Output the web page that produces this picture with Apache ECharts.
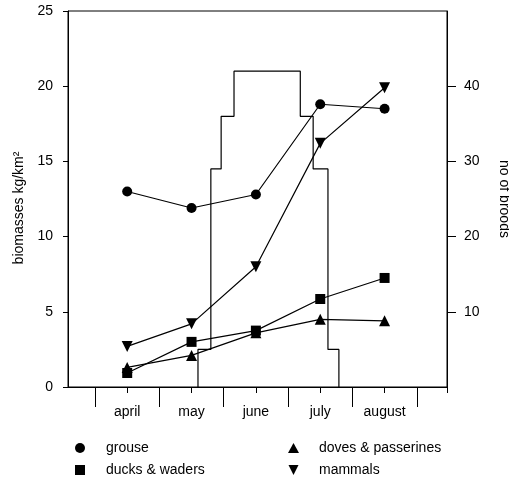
<!DOCTYPE html>
<html>
<head>
    <meta charset="utf-8">
    <title>biomasses</title>
    <script src="https://cdn.jsdelivr.net/npm/echarts@6/dist/echarts.min.js"></script>
    <style>
        html, body {margin:0;padding:0;background:#fff;}
        #chart {width:509px;height:481px;}
    </style>
</head>
<body>
<div id="chart"></div>
<script>
    // months on the x axis, one bin each
    var months = ['april', 'may', 'june', 'july', 'august'];

    // biomasses kg/km2, left axis
    var grouse  = [13.0, 11.9, 12.8, 18.8, 18.5];
    var ducks   = [0.93, 3.0, 3.75, 5.85, 7.25];
    var doves   = [1.3, 2.1, 3.6, 4.5, 4.4];
    var mammals = [2.7, 4.2, 8.0, 16.2, 19.9];

    // no of broods (right axis), step histogram
    var broodEdges = [1.6, 1.8, 1.96, 2.16, 3.19, 3.39, 3.62, 3.79];
    var broods     = [5, 29, 36, 42, 36, 29, 5];

    var leftTicks  = [0, 5, 10, 15, 20, 25];
    var rightTicks = [10, 20, 30, 40];

    var font = 'Liberation Sans, Arial, Helvetica, sans-serif';
    var downTri = 'path://M0,0L10,0L5,10Z';

    // month i sits in the middle of bin [i, i+1]
    function pts(arr) {
        return arr.map(function (v, i) { return [i + 0.5, v]; });
    }

    var stepData = [[broodEdges[0], 0]];
    for (var i = 0; i < broods.length; i++) {
        stepData.push([broodEdges[i], broods[i]]);
    }
    stepData.push([broodEdges[broodEdges.length - 1], 0]);

    var bounds = [];
    var centers = [];
    for (var k = 0; k <= months.length; k++) bounds.push(k);
    for (var k = 0; k < months.length; k++) centers.push(k + 0.5);

    var xMin = -0.42, xMax = 5.47;

    function lineSeries(name, data, symbol, size) {
        return {
            name: name,
            type: 'line',
            data: pts(data),
            symbol: symbol,
            symbolSize: size,
            lineStyle: {color: '#000', width: 1.2},
            itemStyle: {color: '#000'},
            z: 3
        };
    }

    var legendText = {fontFamily: font, fontSize: 14, color: '#000', lineHeight: 14};

    var chart = echarts.init(document.getElementById('chart'));
    var option = {
        animation: false,
        backgroundColor: '#fff',
        textStyle: {fontFamily: font, color: '#000'},
        grid: {
            left: 68, right: 62, top: 11, bottom: 94,
            outerBoundsMode: 'none', containLabel: false,
            show: true, borderColor: '#000', borderWidth: 1
        },
        legend: [
            {
                left: 75, top: 441, orient: 'vertical', padding: 0, height: 41,
                itemWidth: 10, itemHeight: 10, itemGap: 8,
                textStyle: echarts.util.extend({padding: [0, 0, 0, 16]}, legendText),
                data: [{name: 'grouse', icon: 'circle'}, {name: 'ducks & waders', icon: 'rect'}]
            },
            {
                left: 288, top: 441, orient: 'vertical', padding: 0, height: 41,
                itemWidth: 11, itemHeight: 10, itemGap: 8,
                textStyle: echarts.util.extend({padding: [0, 0, 0, 15]}, legendText),
                data: [{name: 'doves & passerines', icon: 'triangle'}, {name: 'mammals', icon: downTri}]
            }
        ],
        xAxis: [
            {
                type: 'value', min: xMin, max: xMax,
                splitLine: {show: false},
                axisLine: {onZero: false, lineStyle: {color: '#000', width: 1}},
                axisTick: {show: true, customValues: bounds, length: 20, lineStyle: {color: '#000'}},
                axisLabel: {
                    customValues: centers, margin: 18, fontSize: 14, color: '#000', fontFamily: font,
                    formatter: function (v) { return months[Math.round(v - 0.5)]; }
                }
            },
            {
                type: 'value', min: xMin, max: xMax, position: 'bottom',
                splitLine: {show: false},
                axisLine: {show: false, onZero: false},
                axisTick: {show: true, customValues: centers.concat([xMax]), length: 6, lineStyle: {color: '#000'}},
                axisLabel: {show: false}
            }
        ],
        yAxis: [
            {
                type: 'value', min: 0, max: 25, interval: 5, position: 'left',
                name: 'biomasses kg/km\u00b2', nameLocation: 'middle', nameGap: 40,
                nameTextStyle: {fontSize: 14, color: '#000', fontFamily: font, padding: [0, 0, 0, -18]},
                splitLine: {show: false},
                axisLine: {show: true, onZero: false, lineStyle: {color: '#000'}},
                axisTick: {show: true, length: 5, customValues: leftTicks, lineStyle: {color: '#000'}},
                axisLabel: {margin: 15, fontSize: 14, color: '#000', fontFamily: font}
            },
            {
                type: 'value', min: 0, max: 50, interval: 10, position: 'right',
                name: 'no of broods', nameLocation: 'middle', nameGap: 50, nameRotate: -90,
                nameTextStyle: {fontSize: 14, color: '#000', fontFamily: font},
                splitLine: {show: false},
                axisLine: {show: true, onZero: false, lineStyle: {color: '#000'}},
                axisTick: {show: true, length: 9, customValues: rightTicks, lineStyle: {color: '#000'}},
                axisLabel: {margin: 17, fontSize: 14, color: '#000', fontFamily: font, customValues: rightTicks}
            }
        ],
        series: [
            {
                name: 'broods',
                type: 'line',
                yAxisIndex: 1,
                step: 'end',
                data: stepData,
                symbol: 'none',
                lineStyle: {color: '#000', width: 1.2},
                z: 2
            },
            lineSeries('grouse', grouse, 'circle', 10),
            lineSeries('ducks & waders', ducks, 'rect', 10),
            lineSeries('doves & passerines', doves, 'triangle', 11),
            lineSeries('mammals', mammals, downTri, 11)
        ]
    };
    chart.setOption(option);
</script>
</body>
</html>
